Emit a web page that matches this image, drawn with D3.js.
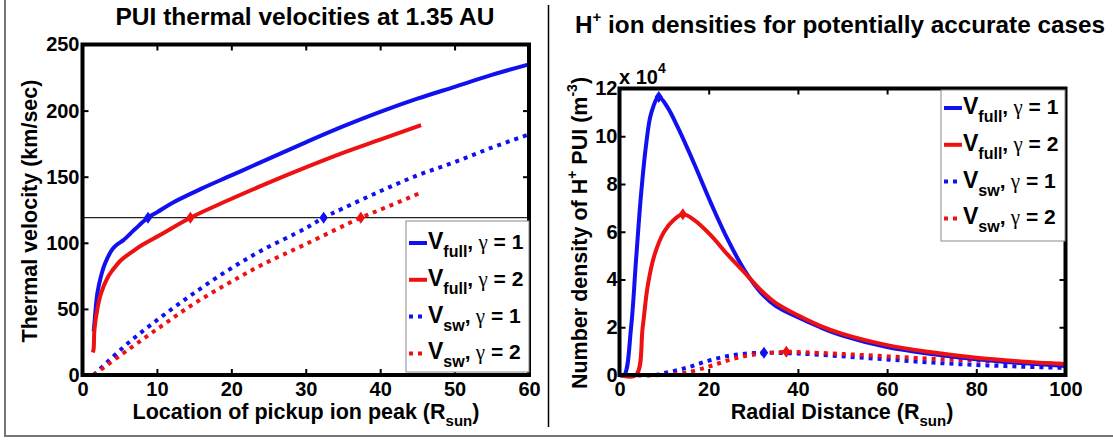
<!DOCTYPE html>
<html><head><meta charset="utf-8">
<script src="https://cdn.jsdelivr.net/npm/d3@7"></script>
<style>
body{margin:0;background:#fff}
text{font-family:"Liberation Sans",Arial,Helvetica,sans-serif;font-weight:bold;fill:#000}
</style>
</head><body>
<svg id="c" width="1113" height="440"></svg>
<script>
// ---------------- DATA ----------------
// Left panel: PUI thermal velocity (km/sec) vs location of pickup ion peak (R_sun)
const velXTicks = [0, 10, 20, 30, 40, 50, 60];
const velYTicks = [0, 50, 100, 150, 200, 250];
const vFullG1X = [1.5, 1.6, 2, 2.5, 3, 4, 4.6, 5.5, 7, 8.8, 10, 12, 16, 20, 24, 30, 35, 40, 45, 50, 55, 60];
const vFullG1Y = [33, 39, 62, 75, 84, 95, 98.5, 102, 110, 119, 123, 130, 141, 151, 161, 176, 188, 199, 209, 218, 227, 235];
const vFullG2X = [1.4, 1.5, 1.6, 2, 2.5, 3.4, 4, 5.2, 6.5, 7.9, 10.6, 14.5, 19.5, 24, 30, 35, 40, 45.5];
const vFullG2Y = [17, 20, 34, 50, 62, 74, 79, 87, 92.5, 98, 106.5, 119, 132, 143, 157, 168, 178, 189];
const vSwG1X = [1.5, 6.1, 10.6, 15, 19.5, 24, 30, 32.4, 35, 40, 45, 50, 55, 60];
const vSwG1Y = [0, 24, 44, 62, 79, 94, 111, 119, 126, 139, 151, 161, 172, 182];
const vSwG2X = [1.5, 6.1, 10.6, 15, 19.5, 24, 30, 37.4, 40, 45.5];
const vSwG2Y = [0, 19, 37, 54, 69, 83, 99, 119, 125, 138];
const thresholdV = 119;
const velMarkX = [8.8, 14.5, 32.4, 37.4];
const velMarkY = [119, 119, 119, 119];

// Right panel: H+ PUI number density (x 10^4 m^-3) vs radial distance (R_sun)
const denXTicks = [0, 20, 40, 60, 80, 100];
const denYTicks = [0, 2, 4, 6, 8, 10, 12];
const nFullG1X = [0, 1.05, 2.6, 3.7, 4.85, 6, 7.1, 8.8, 10.8, 13, 16.7, 20.5, 24.2, 28, 31.7, 35, 40, 45, 50, 60, 70, 80, 90, 100];
const nFullG1Y = [0, 0, 2.0, 4.8, 7.6, 9.7, 10.96, 11.64, 11.2, 10.4, 8.87, 7.2, 5.7, 4.4, 3.45, 2.9, 2.42, 2.0, 1.65, 1.17, 0.88, 0.66, 0.5, 0.38];
const nFullG2X = [0, 3.7, 5.2, 6.3, 7.8, 10, 12.2, 14.2, 16.7, 20.5, 24.2, 28, 31.7, 35, 40, 45, 50, 60, 70, 80, 90, 100];
const nFullG2Y = [0, 0, 2.0, 3.7, 5.0, 6.0, 6.5, 6.73, 6.5, 5.85, 5.05, 4.3, 3.55, 3.02, 2.5, 2.06, 1.72, 1.25, 0.95, 0.72, 0.57, 0.46];
const nSwG1X = [0, 8, 10, 15, 20, 25, 30, 32.4, 40, 50, 60, 70, 80, 90, 100];
const nSwG1Y = [0, 0, 0.08, 0.3, 0.6, 0.82, 0.92, 0.93, 0.9, 0.78, 0.65, 0.52, 0.42, 0.35, 0.3];
const nSwG2X = [0, 10, 12, 15, 20, 25, 30, 37.4, 40, 50, 60, 70, 80, 90, 100];
const nSwG2Y = [0, 0, 0.03, 0.1, 0.35, 0.65, 0.85, 0.97, 0.96, 0.88, 0.78, 0.68, 0.6, 0.52, 0.46];
const denMarkX = [8.8, 14.2, 32.4, 37.4];
const denMarkY = [11.64, 6.73, 0.93, 0.97];

const legendSubs = ["full", "full", "sw", "sw"];
const legendGammas = ["1", "2", "1", "2"];

// ---------------- STYLE ----------------
const BLUE = "#1010f0", RED = "#ee1111";
const seriesColors = [BLUE, RED, BLUE, RED];
const seriesDashed = [false, false, true, true];

const svg = d3.select("#c");
svg.append("rect").attr("width", 1113).attr("height", 440).attr("fill", "#fff");
// outer frame & divider
svg.append("path").attr("d", "M5,0V436H1113").attr("fill", "none").attr("stroke", "#767676").attr("stroke-width", 2);
svg.append("line").attr("x1", 548.5).attr("x2", 548.5).attr("y1", 5).attr("y2", 427).attr("stroke", "#000").attr("stroke-width", 1.5);

function zip(xs, ys) { return xs.map((x, i) => [x, ys[i]]); }

function drawFrame(g, x, y, xticks, yticks, padY) {
  const [x0, x1] = x.range(), [y0, y1] = y.range();
  const fs = 20;
  const b = g.append("g").attr("transform", `translate(0,${y0})`)
    .call(d3.axisBottom(x).tickValues(xticks).tickSizeInner(-6).tickSizeOuter(0).tickPadding(7));
  const t = g.append("g").attr("transform", `translate(0,${y1})`)
    .call(d3.axisTop(x).tickValues(xticks).tickSizeInner(-6).tickSizeOuter(0).tickFormat(""));
  const l = g.append("g").attr("transform", `translate(${x0},0)`)
    .call(d3.axisLeft(y).tickValues(yticks).tickSizeInner(-6).tickSizeOuter(0).tickPadding(padY));
  const r = g.append("g").attr("transform", `translate(${x1},0)`)
    .call(d3.axisRight(y).tickValues(yticks).tickSizeInner(-6).tickSizeOuter(0).tickFormat(""));
  [b, t, l, r].forEach(a => {
    a.select(".domain").remove();
    a.selectAll(".tick line").attr("stroke", "#000").attr("stroke-width", 2);
    a.selectAll("text").attr("font-size", fs).attr("fill", "#000");
    a.attr("font-family", null).attr("font-size", null);
  });
  g.append("rect").attr("x", x0).attr("y", y1).attr("width", x1 - x0).attr("height", y0 - y1)
    .attr("fill", "none").attr("stroke", "#000").attr("stroke-width", 4);
}

function drawSeries(g, x, y, data, color, dashed) {
  const line = d3.line().x(d => x(d[0])).y(d => y(d[1])).curve(d3.curveCatmullRom.alpha(0.5));
  g.append("path").attr("d", line(data)).attr("fill", "none").attr("stroke", color)
    .attr("stroke-width", 4).attr("stroke-dasharray", dashed ? "4,5" : null).attr("stroke-linejoin", "round");
}

const diamond = "M0,-6L4.2,0L0,6L-4.2,0Z";
function drawMarkers(g, x, y, xs, ys) {
  xs.forEach((mx, i) => {
    g.append("path").attr("d", diamond).attr("fill", seriesColors[i])
      .attr("transform", `translate(${x(mx)},${y(ys[i])})`);
  });
}

function drawLegend(g, bx, by, bw, bh, rowY0, step) {
  g.append("rect").attr("x", bx).attr("y", by).attr("width", bw).attr("height", bh)
    .attr("fill", "#fff").attr("stroke", "#8a8a8a").attr("stroke-width", 1);
  legendSubs.forEach((sub, i) => {
    const yy = rowY0 + i * step;
    g.append("line").attr("x1", bx + 3).attr("x2", bx + 21).attr("y1", yy).attr("y2", yy)
      .attr("stroke", seriesColors[i]).attr("stroke-width", 4)
      .attr("stroke-dasharray", seriesDashed[i] ? "4,5" : null);
    const t = g.append("text").attr("x", bx + 22).attr("y", yy + 6);
    t.append("tspan").attr("font-size", 23).text("V");
    t.append("tspan").attr("font-size", 16).attr("dy", 8).text(sub);
    t.append("tspan").attr("font-size", 21).attr("dy", -8).text(",");
    t.append("tspan").attr("font-size", 21).attr("font-weight", "normal")
      .attr("font-family", "'Liberation Serif','DejaVu Serif',serif").text(" γ");
    t.append("tspan").attr("font-size", 21).text(" = " + legendGammas[i]);
  });
}

// ---------------- LEFT PANEL ----------------
{
  const g = svg.append("g");
  const x = d3.scaleLinear().domain([0, 60]).range([82.5, 529]);
  const y = d3.scaleLinear().domain([0, 250]).range([375, 44.5]);
  const series = [zip(vFullG1X, vFullG1Y), zip(vFullG2X, vFullG2Y), zip(vSwG1X, vSwG1Y), zip(vSwG2X, vSwG2Y)];
  g.append("line").attr("x1", x(0)).attr("x2", x(60)).attr("y1", y(thresholdV)).attr("y2", y(thresholdV))
    .attr("stroke", "#222").attr("stroke-width", 1.3);
  series.forEach((s, i) => drawSeries(g, x, y, s, seriesColors[i], seriesDashed[i]));
  drawMarkers(g, x, y, velMarkX, velMarkY);
  drawFrame(g, x, y, velXTicks, velYTicks, 3);
  drawLegend(g, 406, 221, 123, 151, 243, 36.8);

  g.append("text").attr("x", 305).attr("y", 25).attr("text-anchor", "middle").attr("font-size", 24.5)
    .text("PUI thermal velocities at 1.35 AU");
  const xl = g.append("text").attr("x", 306).attr("y", 419).attr("text-anchor", "middle").attr("font-size", 21.5);
  xl.append("tspan").text("Location of pickup ion peak (R");
  xl.append("tspan").attr("font-size", 15).attr("dy", 7).text("sun");
  xl.append("tspan").attr("dy", -7).text(")");
  g.append("text").attr("transform", "translate(37,211) rotate(-90)").attr("text-anchor", "middle")
    .attr("font-size", 21.5).text("Thermal velocity (km/sec)");
}

// ---------------- RIGHT PANEL ----------------
{
  const g = svg.append("g");
  const x = d3.scaleLinear().domain([0, 100]).range([619.5, 1065.5]);
  const y = d3.scaleLinear().domain([0, 12]).range([375, 88.5]);
  const series = [zip(nFullG1X, nFullG1Y), zip(nFullG2X, nFullG2Y), zip(nSwG1X, nSwG1Y), zip(nSwG2X, nSwG2Y)];
  [2, 3, 0, 1].forEach(i => drawSeries(g, x, y, series[i], seriesColors[i], seriesDashed[i]));
  drawMarkers(g, x, y, denMarkX, denMarkY);
  drawFrame(g, x, y, denXTicks, denYTicks, 2);
  drawLegend(g, 941, 90, 124, 151, 108, 36.8);

  const tt = g.append("text").attr("x", 840).attr("y", 33).attr("text-anchor", "middle").attr("font-size", 24.3);
  tt.append("tspan").text("H");
  tt.append("tspan").attr("font-size", 15).attr("dy", -11).text("+");
  tt.append("tspan").attr("dy", 11).text(" ion densities for potentially accurate cases");

  const ex = g.append("text").attr("x", 619).attr("y", 84).attr("font-size", 20);
  ex.append("tspan").text("x 10");
  ex.append("tspan").attr("font-size", 14).attr("dy", -11).text("4");

  const xl = g.append("text").attr("x", 842).attr("y", 419).attr("text-anchor", "middle").attr("font-size", 21.5);
  xl.append("tspan").text("Radial Distance (R");
  xl.append("tspan").attr("font-size", 15).attr("dy", 7).text("sun");
  xl.append("tspan").attr("dy", -7).text(")");

  const yl = g.append("text").attr("transform", "translate(587,233) rotate(-90)").attr("text-anchor", "middle").attr("font-size", 21.5);
  yl.append("tspan").text("Number density of H");
  yl.append("tspan").attr("font-size", 14).attr("dy", -10).text("+");
  yl.append("tspan").attr("dy", 10).text(" PUI (m");
  yl.append("tspan").attr("font-size", 14).attr("dy", -10).text("-3");
  yl.append("tspan").attr("dy", 10).text(")");
}
</script>
</body></html>
